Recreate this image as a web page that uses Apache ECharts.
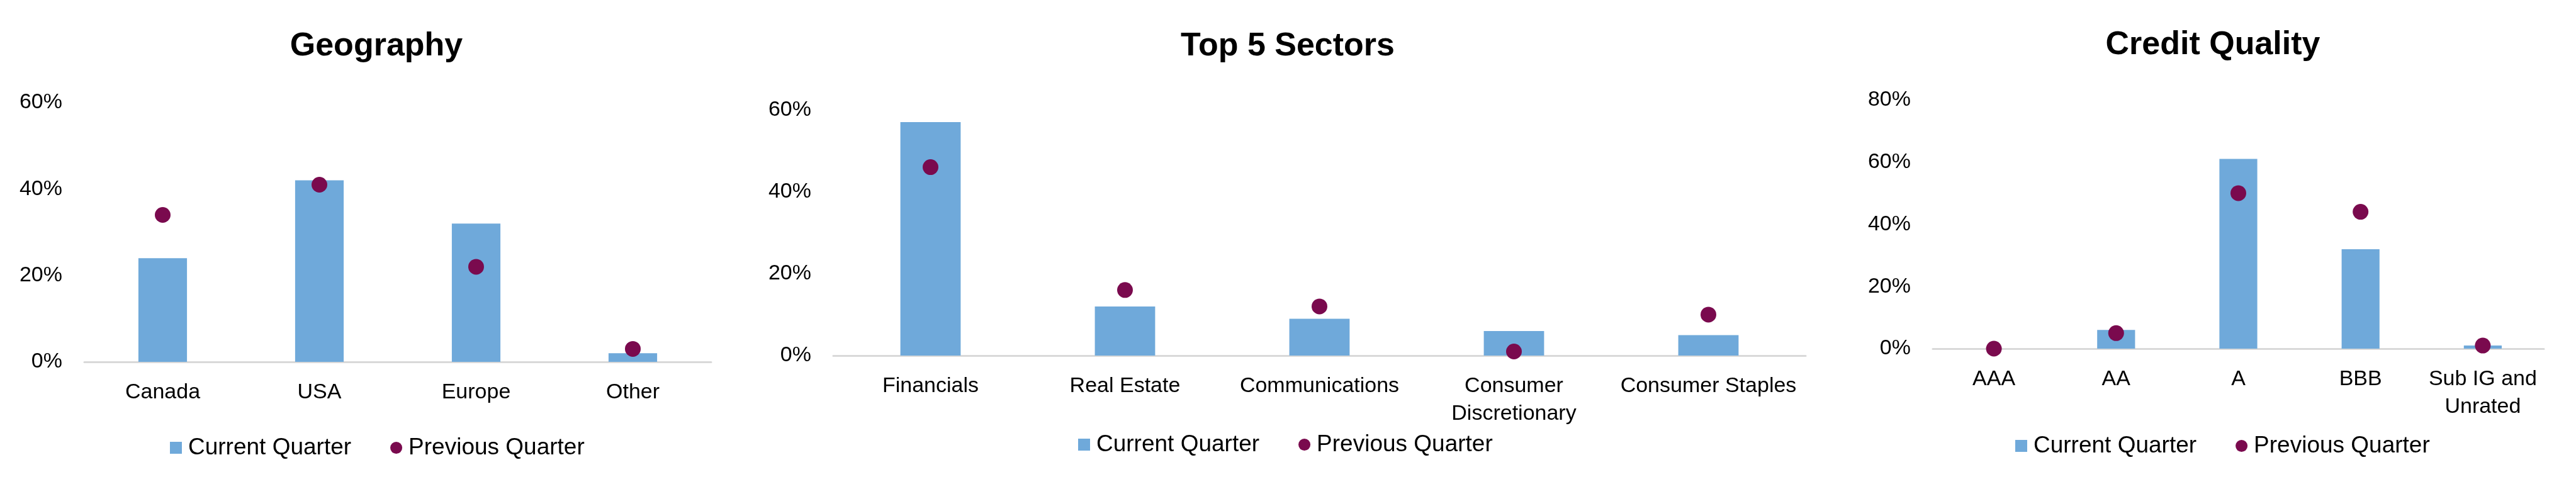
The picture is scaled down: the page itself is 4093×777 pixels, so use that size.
<!DOCTYPE html>
<html>
<head>
<meta charset="utf-8">
<script src="https://cdn.jsdelivr.net/npm/echarts@6/dist/echarts.min.js"></script>
<style>
html,body{margin:0;padding:0;background:#fff;}
#c{width:4093px;height:777px;}
</style>
</head>
<body>
<div id="c"></div>
<script>
const seriesNames = ['Current Quarter', 'Previous Quarter'];
const panelTitles = ['Geography', 'Top 5 Sectors', 'Credit Quality'];

const geoCategories = ['Canada', 'USA', 'Europe', 'Other'];
const geoCurrent = [24, 42, 32, 2];
const geoPrevious = [34, 41, 22, 3];

const sectorCategories = ['Financials', 'Real Estate', 'Communications', 'Consumer\nDiscretionary', 'Consumer Staples'];
const sectorCurrent = [57, 12, 9, 6, 5];
const sectorPrevious = [46, 16, 12, 1, 10];

const creditCategories = ['AAA', 'AA', 'A', 'BBB', 'Sub IG and\nUnrated'];
const creditCurrent = [0, 6, 61, 32, 1];
const creditPrevious = [0, 5, 50, 44, 1];

const yMax = [60, 60, 80];
const yInterval = 20;

const FONT = "'Liberation Sans', Arial, sans-serif";
const BAR = '#6FA9DA';
const DOT = '#7A0A4E';

const panels = [
  {cats: geoCategories, cur: geoCurrent, prev: geoPrevious,
   grid: {left: 134, top: 163, width: 996, height: 412},
   titleX: 598, titleY: 48, legendX: 270, legendY: 693},
  {cats: sectorCategories, cur: sectorCurrent, prev: sectorPrevious,
   grid: {left: 1324, top: 174.5, width: 1545, height: 390.5},
   titleX: 2046, titleY: 48, legendX: 1713, legendY: 688},
  {cats: creditCategories, cur: creditCurrent, prev: creditPrevious,
   grid: {left: 3071, top: 158.7, width: 971, height: 395.3},
   titleX: 3516, titleY: 46, legendX: 3202, legendY: 690}
];

const option = {
  backgroundColor: '#fff',
  animation: false,
  textStyle: {fontFamily: FONT},
  title: panels.map((p, i) => ({
    text: panelTitles[i],
    left: p.titleX, top: p.titleY, textAlign: 'center', padding: 0,
    textStyle: {fontFamily: FONT, fontSize: 52, fontWeight: 'bold', color: '#000'}
  })),
  legend: panels.map((p, i) => ({
    left: p.legendX, top: p.legendY, padding: 0,
    itemWidth: 19, itemHeight: 19, itemGap: 62,
    textStyle: {fontFamily: FONT, fontSize: 37, color: '#000', padding: [0, 0, 0, 5]},
    data: [{name: seriesNames[0], icon: 'rect'}, {name: seriesNames[1], icon: 'circle'}]
  })),
  grid: panels.map(p => Object.assign({containLabel: false}, p.grid)),
  xAxis: panels.map((p, i) => ({
    type: 'category', gridIndex: i, data: p.cats,
    axisLine: {lineStyle: {color: '#D9D9D9', width: 3}},
    axisTick: {show: false},
    axisLabel: {interval: 0, margin: 27, fontFamily: FONT, fontSize: 34, color: '#000', lineHeight: 44}
  })),
  yAxis: panels.map((p, i) => ({
    type: 'value', gridIndex: i, min: 0, max: yMax[i], interval: yInterval,
    axisLine: {show: false}, axisTick: {show: false}, splitLine: {show: false},
    axisLabel: {margin: 35, fontFamily: FONT, fontSize: 34, color: '#000', formatter: '{value}%'}
  })),
  series: panels.flatMap((p, i) => [
    {name: seriesNames[0], type: 'bar', xAxisIndex: i, yAxisIndex: i, data: p.cur,
     barWidth: '31%', itemStyle: {color: BAR}},
    {name: seriesNames[1], type: 'scatter', xAxisIndex: i, yAxisIndex: i, data: p.prev,
     symbol: 'circle', symbolSize: 25, itemStyle: {color: DOT, opacity: 1}, z: 3}
  ])
};

const chart = echarts.init(document.getElementById('c'), null, {renderer: 'canvas'});
chart.setOption(option);
</script>
</body>
</html>
